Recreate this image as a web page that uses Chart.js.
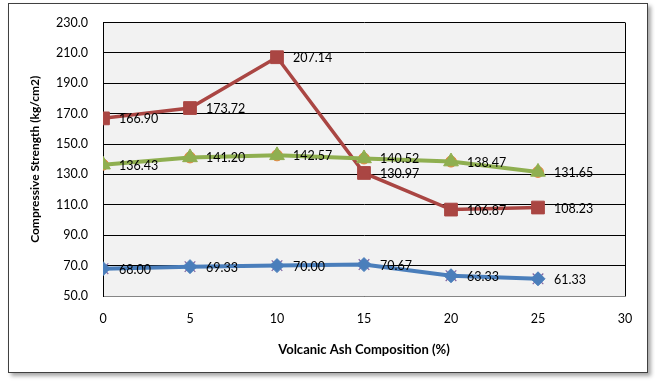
<!DOCTYPE html>
<html>
<head>
<meta charset="utf-8">
<script src="https://cdn.jsdelivr.net/npm/chart.js@4/dist/chart.umd.min.js"></script>
<style>
html,body{margin:0;padding:0;background:#fff;}
#wrap{position:relative;width:655px;height:384px;overflow:hidden;}
#frame{position:absolute;left:8px;top:3px;width:638px;height:368px;border:1px solid #404040;background:#fff;box-shadow:3px 3px 4px rgba(0,0,0,0.35);}
canvas{position:absolute;left:0;top:0;}
</style>
</head>
<body>
<div id="wrap">
<div id="frame"></div>
<canvas id="c" width="655" height="384"></canvas>
</div>
<script>
// Data
const composition = [0, 5, 10, 15, 20, 25];
const seriesBlue = [68.00, 69.33, 70.00, 70.67, 63.33, 61.33];
const seriesRed = [166.90, 173.72, 207.14, 130.97, 106.87, 108.23];
const seriesGreen = [136.43, 141.20, 142.57, 140.52, 138.47, 131.65];
const seriesPurple = [68.00, 69.33, 70.00, 70.67, 63.33, 61.33];
const seriesOrange = [136.43, 141.20, 142.57, 140.52, 138.47, 131.65];
const yTickMin = 50, yTickMax = 230, yTickStep = 20;
const xTickMin = 0, xTickMax = 30, xTickStep = 5;

const FONT = "Lato, 'Liberation Sans', sans-serif";

function pts(arr){ return composition.map((x,i)=>({x:x, y:arr[i]})); }

const plotBg = {
  id:'plotBg',
  beforeDraw(chart){
    const {ctx, chartArea:a} = chart;
    ctx.save();
    ctx.fillStyle = '#f2f2f2';
    ctx.fillRect(a.left, a.top, a.right-a.left, a.bottom-a.top);
    ctx.restore();
  },
  afterDraw(chart){
    const {ctx, chartArea:a} = chart;
    ctx.save();
    ctx.strokeStyle = '#000';
    ctx.lineWidth = 1;
    ctx.beginPath();
    ctx.moveTo(Math.round(a.right)+0.5, a.top);
    ctx.lineTo(Math.round(a.right)+0.5, a.bottom);
    ctx.stroke();
    ctx.restore();
  }
};

const dataLabels = {
  id:'dataLabels',
  afterDatasetsDraw(chart){
    const ctx = chart.ctx;
    ctx.save();
    ctx.font = "12.5px " + FONT;
    ctx.fillStyle = '#000';
    ctx.textAlign = 'left';
    ctx.textBaseline = 'middle';
    chart.data.datasets.forEach((ds, di)=>{
      if (!ds.showLabels) return;
      const meta = chart.getDatasetMeta(di);
      meta.data.forEach((el, i)=>{
        ctx.fillText(ds.data[i].y.toFixed(2), el.x + 16, el.y + 1);
      });
    });
    ctx.restore();
  }
};

new Chart(document.getElementById('c'), {
  type:'scatter',
  data:{
    datasets:[
      {label:'S4', data:pts(seriesPurple), showLine:false, pointStyle:'crossRot', pointRadius:7.5, borderColor:'#8064A2', borderWidth:1.2, order:5},
      {label:'S1', data:pts(seriesBlue), showLine:true, borderColor:'#4A7EBB', backgroundColor:'#4A7EBB', borderWidth:4, pointStyle:'rectRot', pointRadius:7, pointBorderWidth:1, showLabels:true, order:4},
      {label:'S2', data:pts(seriesRed), showLine:true, borderColor:'#AA4643', backgroundColor:'#AA4643', borderWidth:3.5, pointStyle:'rect', pointRadius:9, pointBorderWidth:1, showLabels:true, order:3},
      {label:'S6', data:pts(seriesOrange), showLine:false, pointStyle:'circle', pointRadius:5.5, borderColor:'#E38A45', backgroundColor:'#E38A45', order:2},
      {label:'S3', data:pts(seriesGreen), showLine:true, borderColor:'#8FAF50', backgroundColor:'#8FAF50', borderWidth:4, pointStyle:'triangle', pointRadius:8.5, pointBorderWidth:1, showLabels:true, order:1}
    ]
  },
  options:{
    responsive:false,
    animation:false,
    layout:{padding:{left:0, top:21, right:30, bottom:0}},
    plugins:{legend:{display:false}, tooltip:{enabled:false}},
    scales:{
      x:{
        type:'linear', min:xTickMin, max:xTickMax,
        ticks:{stepSize:xTickStep, color:'#000', font:{family:FONT, size:12.5}, padding:15},
        grid:{display:false, drawTicks:false},
        border:{display:true, color:'#868686', width:1},
        title:{display:true, text:'Volcanic Ash Composition (%)', color:'#000', font:{family:FONT, size:13, weight:'bold'}, padding:{top:0, bottom:26}},
        afterFit(s){ s.height = 88; }
      },
      y:{
        type:'linear', min:yTickMin, max:yTickMax,
        ticks:{stepSize:yTickStep, color:'#000', font:{family:FONT, size:12.5}, padding:15, callback:v=>Number(v).toFixed(1)},
        grid:{color:'#000', lineWidth:1, drawTicks:false},
        border:{display:true, color:'#000', width:1},
        title:{display:true, text:'Compressive Strength (kg/cm2)', color:'#000', font:{family:FONT, size:12, weight:'bold'}, padding:{top:28, bottom:0}},
        afterFit(s){ s.width = 103; }
      }
    }
  },
  plugins:[plotBg, dataLabels]
});
</script>
</body>
</html>
